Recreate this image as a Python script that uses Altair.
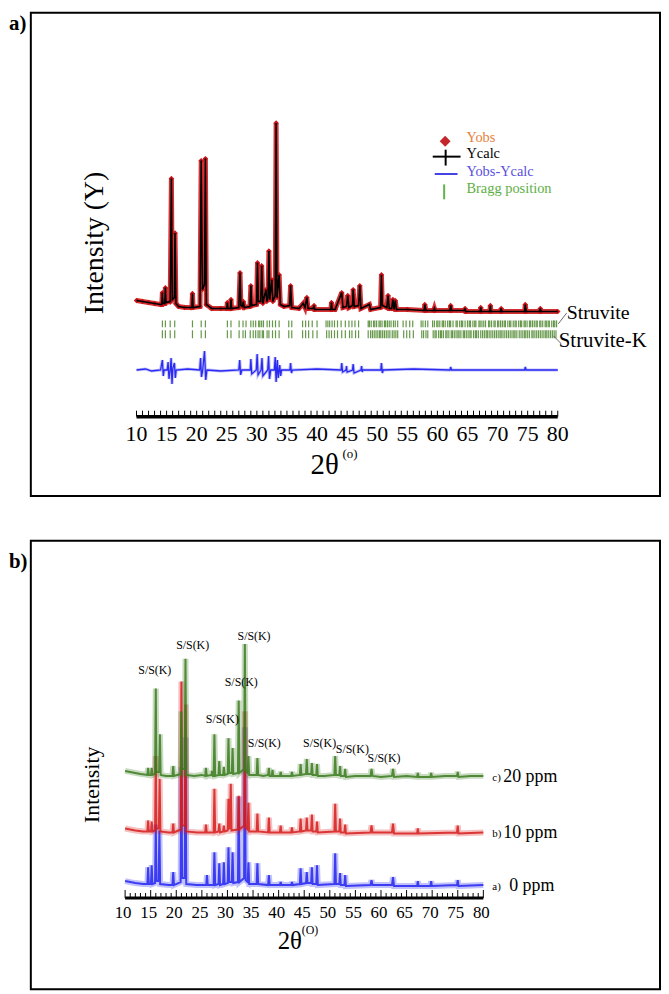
import altair as alt
import pandas as pd

SERIF = "Liberation Serif"

# ------------------------------------------------------------------ panel a
# Rietveld pattern: 2theta (deg) and intensity (a.u.)
tt_a = [10.0, 11.0, 12.0, 13.0, 14.0, 14.2, 14.3, 14.4, 14.7, 14.8, 14.9, 15.6, 15.8, 15.95,
        16.3, 16.4, 16.55, 17.0, 18.0, 19.0, 19.2, 19.3, 19.4, 20.55, 20.75, 20.95, 21.3, 21.45,
        21.6, 22.5, 24.0, 25.0, 25.1, 25.2, 25.6, 25.7, 25.8, 27.0, 27.2, 27.35, 27.6, 27.75,
        27.9, 28.85, 29.0, 29.15, 29.95, 30.1, 30.25, 30.65, 30.8, 31.0, 31.5, 31.65, 31.85, 32.0,
        32.15, 32.5, 32.65, 33.05, 33.2, 33.35, 33.7, 33.9, 34.5, 35.45, 35.6, 35.8, 37.0, 37.7,
        38.0, 38.3, 38.5, 39.4, 39.5, 39.6, 42.3, 42.4, 42.5, 43.0, 44.1, 44.3, 44.9, 45.1,
        45.3, 45.9, 46.0, 46.2, 46.9, 47.1, 47.3, 48.7, 48.9, 50.55, 50.7, 50.85, 51.6, 51.8,
        52.0, 52.4, 52.6, 52.8, 53.0, 53.2, 55.0, 57.8, 57.9, 58.1, 59.4, 59.5, 59.6, 62.1,
        62.2, 62.35, 64.5, 64.6, 64.7, 67.1, 67.2, 67.3, 68.7, 68.8, 68.9, 70.5, 70.6, 70.7,
        74.5, 74.6, 74.75, 77.0, 77.1, 77.2, 80.0]
yobs_a = [9, 8, 7, 6, 5, 5, 17, 6, 6, 22, 7, 8, 132, 10,
          12, 77, 6, 3, 2, 2, 2, 16, 2, 3, 150, 20, 25, 152,
          5, 1, 1, 1, 7, 1, 1, 10, 1, 2, 37, 4, 3, 8,
          2, 3, 24, 4, 5, 47, 8, 8, 44, 6, 20, 8, 12, 59,
          10, 30, 8, 14, 188, 12, 35, 5, 3, 4, 24, 2, 1, 6,
          2, 12, 1, 1, 4, 0, 0, 7, 0, 0, 17, 2, 3, 14,
          2, 4, 20, 3, 4, 24, 1, 5, 0, 2, 35, 4, 2, 14,
          1, 1, 10, 0, 9, 0, 0, -1, 5, -1, -1, 1, -1, -1,
          4, -1, -1, 1, -2, -2, 2, -2, -2, 4, -2, -2, 1, -2,
          -2, 5, -2, -2, 1, -2, -2]

# Yobs - Ycalc difference curve
tt_diff = [10.0, 11.5, 12.5, 14.0, 14.3, 14.45, 14.6, 15.1, 15.25, 15.4, 15.6, 15.75, 15.9, 16.05,
           16.3, 16.45, 16.6, 18.5, 20.5, 20.65, 20.8, 21.0, 21.3, 21.5, 21.7, 24.0, 27.0, 27.15,
           27.3, 27.5, 28.9, 29.0, 29.15, 29.9, 30.05, 30.2, 30.7, 30.85, 31.0, 31.8, 31.95,
           32.1, 32.3, 32.9, 33.05, 33.2, 33.4, 33.55, 33.8, 33.95, 34.1, 35.5, 35.6, 35.75,
           35.9, 40.0, 44.0, 44.1, 44.25, 44.8, 44.9, 45.0, 45.9, 46.0, 46.15, 47.3, 47.4, 47.5,
           47.6, 50.6, 50.7, 50.85, 51.0, 56.0, 62.1, 62.2, 62.35, 68.0, 74.5, 74.6, 74.75, 80.0]
ydiff = [0, 1, -1, 0, 10, -6, 0, 0, 8, -9, 0, 12, -14, 2,
         7, -8, 0, 1, 0, 12, -7, 0, 19, -10, 0, -1, 0, 10,
         -5, 0, 0, 11, -4, 0, 16, -5, 0, 12, -6, 0, 14,
         -9, 0, 0, 13, -12, 10, -8, 5, -6, 0, 0, 7, -3,
         0, 1, 0, 7, -2, 0, 4, -2, 0, 6, -3, 0, 4, -2,
         0, 0, 7, -3, 0, 1, 0, 3, 0, 0, 0, 3, 0, 0]

bragg_struvite = [14.3, 14.8, 15.6, 16.35, 19.3, 20.75, 21.45, 25.1, 25.7, 27.05, 27.7, 28.2, 29.0,
                  29.4, 29.8, 30.3, 30.5, 30.8, 31.1, 31.7, 32.1, 32.6, 33.1, 33.7, 35.3, 35.8,
                  37.6, 38.1, 38.6, 39.2, 40.0, 41.5, 41.8, 42.1, 42.5, 42.9, 43.4, 44.0, 44.7,
                  45.3, 45.8, 46.3, 46.9, 48.5, 48.7, 49.0, 49.4, 49.6, 49.9, 50.3, 50.5, 50.8,
                  51.2, 51.4, 51.7, 52.0, 52.3, 52.7, 53.0, 53.4, 54.3, 54.8, 55.4, 55.9, 57.3,
                  57.6, 58.0, 58.4, 59.2, 59.5, 59.9, 60.1, 60.4, 60.8, 61.0, 61.3, 61.7, 62.0,
                  62.2, 62.6, 63.1, 63.3, 63.7, 64.0, 64.2, 64.6, 65.0, 65.3, 65.5, 65.9, 66.2,
                  66.4, 66.9, 67.1, 67.4, 67.7, 68.0, 68.5, 68.7, 69.0, 69.4, 69.6, 70.0, 70.2,
                  70.5, 70.8, 71.1, 71.3, 71.7, 72.0, 72.2, 72.6, 72.9, 73.1, 73.5, 73.8, 74.0,
                  74.4, 74.6, 74.9, 75.3, 75.5, 75.8, 76.1, 76.4, 76.6, 77.0, 77.2, 77.5, 77.9,
                  78.1, 78.4, 78.6, 79.0, 79.3, 79.5, 79.8]
bragg_struvite_k = [14.3, 14.8, 15.6, 16.35, 19.3, 20.75, 21.45, 25.1, 25.7, 27.05, 27.7, 28.1,
                    28.9, 29.4, 29.8, 30.2, 30.5, 30.9, 31.1, 31.7, 32.0, 32.6, 33.1, 33.7, 35.3,
                    35.8, 37.6, 38.1, 38.6, 39.3, 40.0, 41.6, 42.0, 42.4, 42.9, 43.4, 44.1, 44.7,
                    45.4, 45.8, 46.4, 46.9, 48.5, 48.9, 49.2, 49.5, 49.8, 50.1, 50.4, 50.6, 50.9,
                    51.2, 51.5, 51.8, 52.1, 52.5, 52.8, 53.1, 53.4, 54.4, 54.9, 55.4, 56.0, 57.4,
                    57.7, 58.1, 58.4, 59.3, 59.6, 59.8, 60.2, 60.5, 60.7, 61.0, 61.4, 61.6, 61.9,
                    62.3, 62.5, 62.8, 63.1, 63.4, 63.6, 63.9, 64.3, 64.5, 64.8, 65.1, 65.4, 65.6,
                    66.0, 66.3, 66.5, 66.8, 67.2, 67.5, 67.8, 68.1, 68.3, 68.6, 68.9, 69.2, 69.5,
                    69.8, 70.1, 70.4, 70.6, 70.9, 71.2, 71.5, 71.8, 72.1, 72.4, 72.7, 72.9, 73.2,
                    73.6, 73.9, 74.2, 74.5, 74.7, 75.0, 75.3, 75.7, 75.9, 76.2, 76.5, 76.8, 77.1,
                    77.4, 77.7, 78.0, 78.2, 78.5, 78.8, 79.1, 79.4, 79.7]

tick_labels = [10, 15, 20, 25, 30, 35, 40, 45, 50, 55, 60, 65, 70, 75, 80]

# ------------------------------------------------------------------ panel b
tt_blue = [10.0, 11.0, 12.0, 13.5, 14.35, 14.5, 14.65, 15.05, 15.2, 15.35, 15.85, 16.0, 16.12,
           16.55, 16.7, 16.85, 18.5, 19.25, 19.4, 19.55, 20.85, 21.0, 21.15, 21.65, 21.8, 21.95,
           24.0, 25.85, 26.0, 26.15, 27.3, 27.45, 27.6, 28.25, 28.4, 28.55, 29.15, 29.3, 29.45,
           30.05, 30.2, 30.35, 30.85, 31.0, 31.15, 32.05, 32.2, 32.35, 33.25, 33.4, 33.55, 33.95,
           34.1, 34.25, 35.7, 35.85, 36.0, 37.95, 38.1, 38.25, 40.25, 40.4, 40.55, 42.45, 42.6,
           42.75, 44.15, 44.3, 44.45, 45.35, 45.5, 45.65, 46.35, 46.5, 46.65, 47.35, 47.5, 47.65,
           50.9, 51.05, 51.2, 51.85, 52.0, 52.15, 52.85, 53.0, 53.15, 57.95, 58.15, 58.35, 62.15,
           62.35, 62.55, 67.05, 67.2, 67.35, 69.65, 69.8, 69.95, 74.85, 75.0, 75.15, 80.0]
y_blue = [5, 4, 3, 2, 2, 19, 2, 2, 21, 2, 3, 62, 5,
          5, 56, 2, 1, 1, 14, 1, 4, 120, 8, 8, 150, 2,
          1, 1, 11, 1, 1, 34, 1, 2, 23, 1, 2, 24, 2,
          3, 39, 4, 4, 34, 3, 4, 90, 4, 8, 160, 6, 4,
          24, 2, 2, 23, 2, 1, 11, 1, 1, 4, 1, 1, 4,
          1, 2, 18, 2, 3, 14, 3, 3, 19, 2, 2, 21, 1,
          2, 33, 2, 2, 13, 1, 1, 11, 0, 1, 6, 1, 1,
          9, 0, 0, 5, 0, 0, 5, 0, 1, 6, 0, 1]

tt_red = [10.0, 11.0, 12.0, 13.5, 14.35, 14.5, 14.65, 15.05, 15.2, 15.35, 15.85, 16.0, 16.12,
          16.6, 16.75, 16.9, 18.5, 19.25, 19.4, 19.55, 20.85, 21.0, 21.15, 21.65, 21.8, 21.95,
          24.0, 25.65, 25.8, 25.95, 27.3, 27.45, 27.6, 28.25, 28.4, 28.55, 29.15, 29.3, 29.45,
          30.05, 30.2, 30.35, 30.5, 30.65, 30.8, 32.05, 32.2, 32.35, 33.25, 33.4, 33.55, 33.95,
          34.1, 34.25, 35.7, 35.85, 36.0, 37.95, 38.1, 38.25, 40.25, 40.4, 40.55, 42.45, 42.6,
          42.75, 44.15, 44.3, 44.45, 45.35, 45.5, 45.65, 46.35, 46.5, 46.65, 47.35, 47.5, 47.65,
          50.9, 51.05, 51.2, 51.85, 52.0, 52.15, 52.85, 53.0, 53.15, 57.95, 58.15, 58.35, 62.15,
          62.35, 62.55, 67.05, 67.2, 67.35, 74.85, 75.0, 75.15, 80.0]
y_red = [5, 4, 3, 2, 2, 13, 2, 2, 12, 2, 3, 78, 5,
         5, 55, 2, 1, 1, 10, 1, 4, 153, 8, 8, 130, 2,
         1, 1, 9, 1, 1, 45, 1, 2, 10, 1, 2, 8, 2,
         3, 35, 5, 5, 50, 3, 4, 38, 4, 8, 123, 6, 4,
         31, 2, 2, 20, 2, 1, 16, 1, 1, 8, 1, 1, 6,
         1, 2, 15, 2, 3, 16, 3, 3, 19, 2, 2, 12, 1,
         2, 30, 2, 2, 15, 1, 1, 9, 0, 1, 8, 1, 1,
         10, 0, 0, 5, 0, 1, 8, 0, 1]

tt_green = [10.0, 11.0, 12.0, 13.0, 14.35, 14.5, 14.65, 15.05, 15.2, 15.35, 15.85, 16.0, 16.12,
            16.65, 16.8, 16.95, 18.0, 19.25, 19.4, 19.55, 20.85, 21.0, 21.15, 21.65, 21.8, 21.95,
            23.5, 25.0, 25.65, 25.8, 25.95, 26.85, 27.0, 27.15, 27.3, 27.45, 27.6, 28.25, 28.4,
            28.55, 29.15, 29.3, 29.45, 30.05, 30.2, 30.35, 30.85, 31.0, 31.15, 32.05, 32.2, 32.35,
            33.25, 33.4, 33.55, 33.95, 34.1, 34.25, 35.7, 35.85, 36.0, 37.0, 37.95, 38.1, 38.25,
            38.65, 38.8, 38.95, 40.25, 40.4, 40.55, 42.45, 42.6, 42.75, 44.15, 44.3, 44.45, 45.35,
            45.5, 45.65, 46.35, 46.5, 46.65, 47.35, 47.5, 47.65, 49.0, 50.9, 51.05, 51.2, 51.85,
            52.0, 52.15, 52.85, 53.0, 53.15, 55.0, 57.95, 58.15, 58.35, 60.0, 62.15, 62.35, 62.55,
            65.0, 67.05, 67.2, 67.35, 69.65, 69.8, 69.95, 72.5, 74.85, 75.0, 75.15, 77.5, 80.0]
y_green = [6, 5, 4, 3, 2, 9, 2, 2, 9, 2, 3, 89, 5,
           5, 43, 2, 1, 1, 11, 1, 3, 66, 8, 8, 119, 2,
           1, 2, 1, 9, 1, 2, 6, 1, 1, 43, 1, 2, 16,
           2, 2, 10, 2, 3, 39, 4, 4, 29, 3, 4, 77, 4,
           8, 134, 6, 4, 21, 2, 2, 19, 2, 1, 2, 9, 1,
           1, 7, 1, 1, 5, 1, 1, 5, 1, 2, 13, 2, 3,
           18, 3, 3, 14, 2, 2, 13, 1, 1, 2, 21, 2, 2,
           11, 1, 1, 8, 0, 1, 1, 8, 1, 0, 1, 8, 0,
           1, 0, 4, 0, 0, 4, 0, 1, 1, 5, 0, 1, 1]

series_names = ["a) 0 ppm", "b) 10 ppm", "c) 20 ppm"]
series_offsets = [104, 157, 214]          # vertical shift of each stacked pattern
ss_label_x = [15.8, 23.2, 35.2, 32.7, 29.0, 37.2, 48.0, 54.4, 60.6]
ss_label_y = [322, 347, 356, 310, 272, 248, 248, 242, 233]

# ------------------------------------------------------------------ helpers
XDOM_A = [-7.56, 96.99]
YDOM_A = [-188, 299]
XDOM_B = [-8.42, 114.52]
YDOM_B = [0, 452]


def xenc(field, dom):
    return alt.X(field, type="quantitative", axis=None,
                 scale=alt.Scale(domain=dom, nice=False, zero=False))


def yenc(field, dom):
    return alt.Y(field, type="quantitative", axis=None,
                 scale=alt.Scale(domain=dom, nice=False, zero=False))


one = pd.DataFrame({"k": [0]})


def label(text, x, y, size, color="black", weight="normal", align="left", angle=0,
          baseline="middle"):
    return alt.Chart(one).mark_text(
        text=text, font=SERIF, fontSize=size, color=color, fontWeight=weight,
        align=align, baseline=baseline, angle=angle
    ).encode(x=alt.value(x), y=alt.value(y))


def seg(x, x2, y, y2, color="black", width=1.0):
    return alt.Chart(one).mark_rule(color=color, strokeWidth=width).encode(
        x=alt.value(x), x2=alt.value(x2), y=alt.value(y), y2=alt.value(y2))


# ------------------------------------------------------------------ panel a layers
obs = pd.DataFrame({"x": tt_a, "y": yobs_a, "i": range(len(tt_a))})
diff = pd.DataFrame({"x": tt_diff, "y": [v - 61 for v in ydiff], "i": range(len(tt_diff))})
br1 = pd.DataFrame({"x": bragg_struvite, "y": -11, "y2": -18})
br2 = pd.DataFrame({"x": bragg_struvite_k, "y": -21, "y2": -29})
axis_a = pd.DataFrame({"x": [10], "x2": [80], "y": [-108]})
ticks_a = pd.DataFrame({"x": list(range(10, 81)), "y": -108, "y2": -102})
tlab_a = pd.DataFrame({"x": tick_labels, "y": -126, "t": [str(v) for v in tick_labels]})

la = [
    alt.Chart(br1).mark_rule(color="#3E7D1C", strokeWidth=1.2, opacity=0.8).encode(
        x=xenc("x", XDOM_A), y=yenc("y", YDOM_A), y2="y2"),
    alt.Chart(br2).mark_rule(color="#3E7D1C", strokeWidth=1.2, opacity=0.8).encode(
        x=xenc("x", XDOM_A), y=yenc("y", YDOM_A), y2="y2"),
    alt.Chart(obs).mark_line(color="#D0191E", strokeWidth=5, opacity=0.9).encode(
        x=xenc("x", XDOM_A), y=yenc("y", YDOM_A), order="i"),
    alt.Chart(obs).mark_point(shape="diamond", filled=True, size=30, color="#C8161B", opacity=1).encode(
        x=xenc("x", XDOM_A), y=yenc("y", YDOM_A)),
    alt.Chart(obs).mark_line(color="black", strokeWidth=1.6).encode(
        x=xenc("x", XDOM_A), y=yenc("y", YDOM_A), order="i"),
    alt.Chart(diff).mark_line(color="#2A2AF2", strokeWidth=3.2, opacity=0.3).encode(
        x=xenc("x", XDOM_A), y=yenc("y", YDOM_A), order="i"),
    alt.Chart(diff).mark_line(color="#2A2AF2", strokeWidth=1.3).encode(
        x=xenc("x", XDOM_A), y=yenc("y", YDOM_A), order="i"),
    alt.Chart(axis_a).mark_rule(color="black", strokeWidth=3.5).encode(
        x=xenc("x", XDOM_A), x2="x2", y=yenc("y", YDOM_A)),
    alt.Chart(ticks_a).mark_rule(color="black", strokeWidth=1).encode(
        x=xenc("x", XDOM_A), y=yenc("y", YDOM_A), y2="y2"),
    alt.Chart(tlab_a).mark_text(font=SERIF, fontSize=22, baseline="middle").encode(
        x=xenc("x", XDOM_A), y=yenc("y", YDOM_A), text="t"),
    # titles
    label("Intensity (Y)", 65, 232, 28, angle=270, align="center"),
    label("2θ", 296, 456, 29, align="center"),
    label("(o)", 314, 445, 13),
    label("a)", -22, 0, 21, weight="bold", baseline="top"),
    # phase labels + connectors
    seg(531.5, 540, 313.5, 302.5, color="#444444", width=0.8),
    seg(526.5, 534, 325.5, 333, color="#444444", width=0.8),
    label("Struvite", 540, 303, 20),
    label("Struvite-K", 532, 331, 21),
    # legend
    alt.Chart(one).mark_point(shape="diamond", filled=True, size=120, color="#C3262B", opacity=1).encode(
        x=alt.value(417.5), y=alt.value(129.5)),
    label("Yobs", 439, 126, 14.5, color="#E8813C"),
    seg(405, 433, 145, 145, width=2),
    seg(418, 418, 138, 154, width=2),
    label("Ycalc", 439, 142, 14.5),
    seg(407, 430, 162.5, 162.5, color="#4444E6", width=2),
    label("Yobs-Ycalc", 439, 161, 14.5, color="#5A4FE0"),
    seg(416.5, 416.5, 173, 188, color="#5DB547", width=2),
    label("Bragg position", 439, 178, 14.5, color="#5DAF45"),
]
panel_a = alt.layer(*la).properties(width=634, height=487)

# ------------------------------------------------------------------ panel b layers
pat_x = [tt_blue, tt_red, tt_green]
pat_y = [y_blue, y_red, y_green]
colors_b = ["#2424F0", "#D61C1C", "#3B7B1E"]
lb = []
for name, xs, ys, off, col in zip(series_names, pat_x, pat_y, series_offsets, colors_b):
    d = pd.DataFrame({"x": xs, "y": [v + off for v in ys], "i": range(len(xs))})
    lb.append(alt.Chart(d).mark_line(color=col, strokeWidth=6, opacity=0.28).encode(
        x=xenc("x", XDOM_B), y=yenc("y", YDOM_B), order="i"))
    lb.append(alt.Chart(d).mark_line(color=col, strokeWidth=2.0, opacity=0.85).encode(
        x=xenc("x", XDOM_B), y=yenc("y", YDOM_B), order="i"))

axis_b = pd.DataFrame({"x": [10], "x2": [80], "y": [92]})
ticks_b = pd.DataFrame({"x": list(range(10, 81)), "y": 92,
                        "y2": [100 if v % 5 == 0 else 97 for v in range(10, 81)]})
tlab_b = pd.DataFrame({"x": tick_labels, "y": 77, "t": [str(v) for v in tick_labels]})
ss = pd.DataFrame({"x": ss_label_x, "y": ss_label_y, "t": "S/S(K)"})

lb += [
    alt.Chart(axis_b).mark_rule(color="black", strokeWidth=3).encode(
        x=xenc("x", XDOM_B), x2="x2", y=yenc("y", YDOM_B)),
    alt.Chart(ticks_b).mark_rule(color="black", strokeWidth=1).encode(
        x=xenc("x", XDOM_B), y=yenc("y", YDOM_B), y2="y2"),
    alt.Chart(tlab_b).mark_text(font=SERIF, fontSize=17, baseline="middle", dx=-2).encode(
        x=xenc("x", XDOM_B), y=yenc("y", YDOM_B), text="t"),
    alt.Chart(ss).mark_text(font=SERIF, fontSize=12, baseline="middle").encode(
        x=xenc("x", XDOM_B), y=yenc("y", YDOM_B), text="t"),
    label("Intensity", 62, 246, 22, angle=270, align="center"),
    label("2θ", 261, 403, 25, align="center"),
    label("(O)", 273, 392, 12),
    label("b)", -22, 22, 21, weight="bold"),
    label("c)", 465, 239, 11), label("20 ppm", 476, 238, 18),
    label("b)", 465, 296, 11), label("10 ppm", 476, 295, 18),
    label("a)", 465, 349, 11), label("0 ppm", 482, 348, 18),
]
panel_b = alt.layer(*lb).properties(width=634, height=452)

chart = alt.vconcat(panel_a, panel_b, spacing=43).resolve_scale(
    x="independent", y="independent"
).configure_view(stroke="black", strokeWidth=2).properties(padding=0)

chart.save("out.html", embed_options={"renderer": "svg", "actions": False})
